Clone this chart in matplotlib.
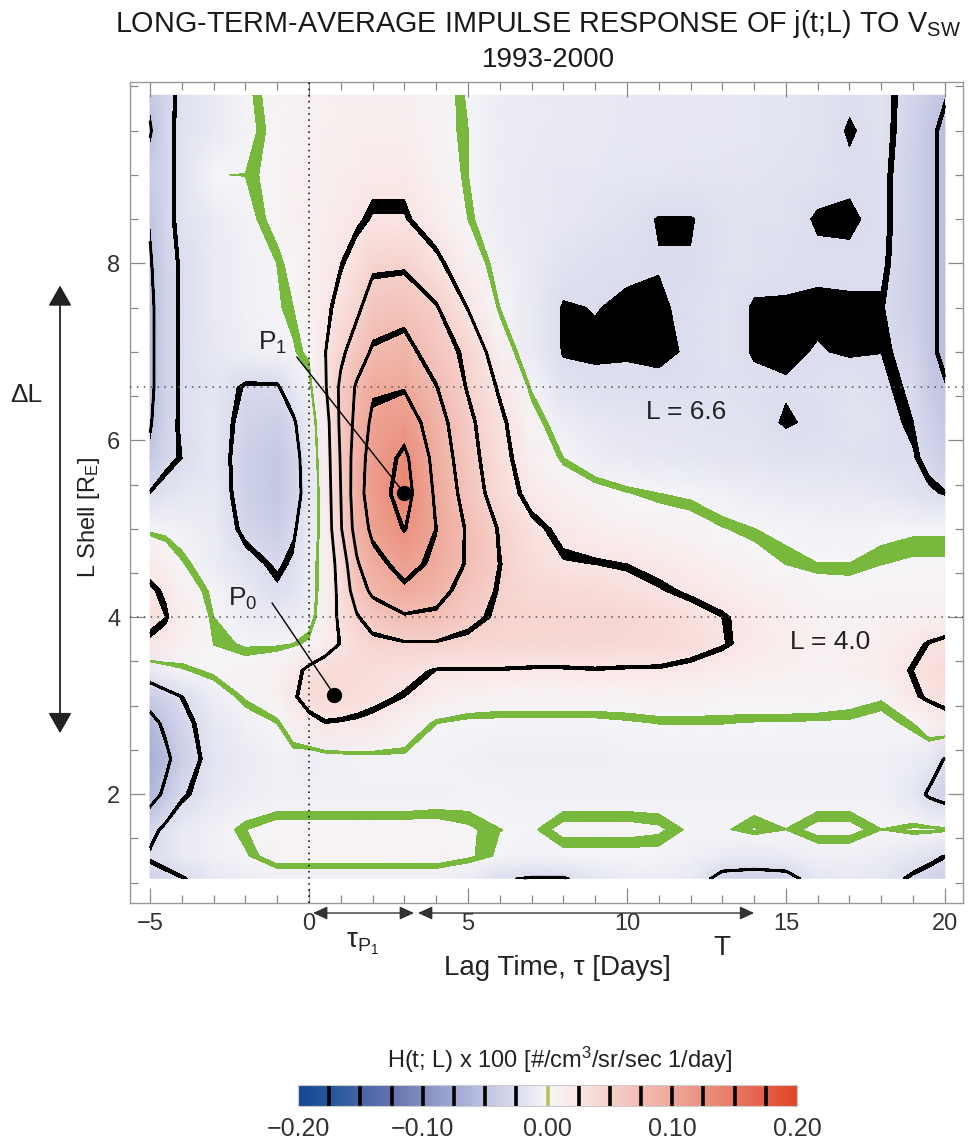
import numpy as np
import matplotlib
import matplotlib.pyplot as plt
from matplotlib.colors import LinearSegmentedColormap, Normalize
from matplotlib.cm import ScalarMappable
from matplotlib.ticker import MultipleLocator

plt.rcParams['font.family'] = ['Liberation Sans', 'DejaVu Sans']
plt.rcParams['mathtext.fontset'] = 'custom'
plt.rcParams['mathtext.rm'] = 'Liberation Sans'
plt.rcParams['mathtext.it'] = 'Liberation Sans:italic'
plt.rcParams['contour.negative_linestyle'] = 'solid'

# ================================
# DATA
# ================================
lag_days = [-5, -4.5, -4, -3, -2, -1, -0.5, 0, 0.5, 1, 1.5, 2, 3, 4, 5, 6, 7, 8, 9,
            10, 11, 12, 13, 14, 15, 16, 17, 18, 19, 19.5, 20]
l_shell = [1.05, 1.3, 1.6, 2.0, 2.4, 2.8, 3.1, 3.4, 3.7, 4.0, 4.3, 4.6, 5.0, 5.4,
           5.8, 6.2, 6.6, 7.0, 7.5, 8.0, 8.5, 9.0, 9.5, 9.9]

# H(t;L) x 100, in thousandths; one row per L shell (bottom to top)
response_milli = [
    [-35, -30, -26, -14, -8, -6, -6, -6, -6, -6, -6, -6, -6, -6, -8, -22, -26, -26, -15, -10, -8, -12, -32, -34, -32, -15, -12, -15, -28, -32, -35],  # 1.05
    [-22, -18, -12, -6, -2, 5, 5, 5, 5, 5, 5, 5, 5, 5, 2, -2, -4, -3, -3, -3, -3, -5, -10, -12, -10, -5, -5, -8, -15, -20, -25],  # 1.3
    [-32, -20, -12, -5, 1, 4, 4, 4, 4, 4, 4, 4, 4, 4, 2, -1, -2, 3, 3, 3, 2, -2, -2, 1.5, -1, 3, 3, -1, 2, 2, 1],  # 1.6
    [-60, -45, -28, -14, -8, -6, -6, -6, -6, -6, -6, -6, -6, -5, -4, -4, -5, -5, -5, -5, -5, -5, -5, -5, -5, -5, -5, -6, -15, -28, -34],  # 2.0
    [-70, -55, -38, -16, -10, -6, -5, -8, -6, -5, -4, -4, -3, -4, -6, -7, -7, -7, -7, -6, -6, -6, -6, -6, -6, -6, -6, -6, -8, -12, -26],  # 2.4
    [-58, -45, -32, -14, -6, -1, 8, 18, 24, 23, 22, 20, 10, -1, -3, -3, -3, -3, -3, -2, -1, -1, -1, -1.5, -1.5, -2, -2, -4, 1, 10, 16],  # 2.8
    [-40, -32, -25, -8, 2, 10, 22, 34, 38, 37, 33, 30, 24, 14, 8, 6, 6, 6, 6, 6, 7, 7, 6, 6, 6, 6, 4, 2, 22, 28, 32],  # 3.1
    [-12, -6, -2, 3, 5, 9, 18, 30, 37, 38, 36, 34, 32, 24, 24, 24, 23, 23, 24, 23, 23, 20, 15, 12, 10, 9, 10, 14, 26, 32, 36],  # 3.4
    [22, 18, 10, 1, -2, -2, -1, 3, 14, 26, 36, 44, 48, 48, 45, 42, 41, 41, 41, 40, 38, 33, 27, 18, 13, 10, 10, 11, 20, 26, 30],  # 3.7
    [30, 26, 14, -1, -8, -11, -10, -6, 10, 30, 48, 60, 72, 70, 56, 46, 44, 43, 43, 42, 38, 32, 26, 18, 12, 9, 8, 8, 10, 10, 10],  # 4.0
    [28, 22, 8, -3, -12, -22, -18, -8, 8, 32, 62, 80, 96, 85, 64, 48, 40, 38, 36, 32, 27, 22, 17, 12, 8, 5, 4, 5, 6, 6, 6],  # 4.3
    [18, 10, 2, -8, -18, -28, -22, -8, 8, 35, 72, 92, 108, 95, 72, 50, 35, 27, 26, 24, 20, 15, 10, 5, 1, -1, -1, 1, 2, 2, 2],  # 4.6
    [-3, -4, -6, -10, -30, -40, -28, -12, 8, 48, 85, 105, 126, 100, 72, 48, 30, 20, 14, 10, 7, 5, 1.5, -1, -3, -4, -4, -3, -2, -2, -2],  # 5.0
    [-24, -18, -15, -12, -35, -44, -35, -15, 10, 50, 90, 112, 135, 96, 65, 37, 18, 10, 5, 1.5, -1, -2.5, -6, -9, -10, -11, -12, -14, -18, -22, -25],  # 5.4
    [-45, -30, -24, -13, -36, -44, -34, -13, 12, 52, 88, 110, 130, 92, 60, 33, 12, -1, -8, -12, -14, -15, -16, -17, -18, -19, -20, -21, -23, -30, -38],  # 5.8
    [-52, -33, -22, -14, -32, -38, -28, -10, 14, 55, 82, 105, 115, 86, 56, 30, 6, -8, -14, -16, -17, -17, -18, -20, -25, -22, -18, -20, -26, -35, -45],  # 6.2
    [-55, -35, -22, -15, -27, -27, -14, -4, 22, 55, 78, 96, 98, 76, 48, 22, -2, -18, -21, -21, -22, -22, -20, -21, -23, -21, -18, -22, -28, -42, -48],  # 6.6
    [-55, -35, -22, -13, -7, -4, -2, 3, 24, 45, 62, 78, 84, 62, 45, 10, -10, -25, -25.5, -25, -25.5, -23, -18, -25, -25.5, -23.3, -25, -24, -30, -45, -55],  # 7.0
    [-55, -35, -22, -12, -6, -2, 1, 8, 20, 32, 45, 62, 66, 52, 24, -1, -12, -25, -23.5, -25.5, -25, -22, -18, -25, -25, -25.5, -25, -25, -36, -45, -55],  # 7.5
    [-52, -34, -22, -12, -6, -1, 4, 10, 16, 24, 32, 45, 46, 30, 10, -6, -12, -18, -21, -22, -23.5, -23.5, -20, -20, -21, -22, -22, -22, -36, -45, -55],  # 8.0
    [-48, -30, -20, -10, -4, 4, 8, 12, 14, 18, 22, 27, 27, 14, 1, -9, -12, -14, -16, -20, -24.5, -24.5, -20, -19, -20, -25, -25.5, -21, -35, -45, -55],  # 8.5
    [-40, -30, -20, -1.2, -1, 4, 8, 10, 12, 15, 17, 20, 20, 9, -1, -9, -11, -13, -14, -15, -15, -16, -16, -17, -18, -20, -22, -21, -35, -45, -55],  # 9.0
    [-52, -30, -20, -12, -4, 4, 7, 9, 10, 12, 13, 14, 14, 5, -1, -8, -10, -12, -12, -13, -13, -14, -14, -15, -16, -18, -25, -20, -33, -45, -55],  # 9.5
    [-45, -32, -20, -12, -3, 5, 7, 9, 10, 11, 12, 12, 12, 6, -2, -8, -10, -12, -12, -13, -13, -13, -14, -15, -16, -18, -22, -20, -32, -40, -48],  # 9.9
]

# marked response peaks P0 and P1
peak_names = ['P$_0$', 'P$_1$']
peak_lag = [0.8, 3.0]
peak_l = [3.12, 5.4]

# reference L shells (dotted lines)
ref_l_shells = [6.6, 4.0]
ref_labels = ['L = 6.6', 'L = 4.0']

# colour scale: H x 100 from -0.20 to 0.20 in steps of 0.025
cbar_bounds = np.linspace(-0.2, 0.2, 17)
cbar_ticks = [-0.2, -0.1, 0.0, 0.1, 0.2]
cmap_colors = ['#184896', '#23559b', '#4664a5', '#6473b0', '#828cbe', '#a0a8d2',
               '#bec3e1', '#dadcee', '#f6f6f8', '#fae6e4', '#f6d0cb', '#f2bcb2',
               '#eea898', '#eb9180', '#e87864', '#e45e46', '#de4626']

green = '#78b83c'

# ================================
# FIGURE
# ================================
W, H = 969, 1146
fig = plt.figure(figsize=(W / 100, H / 100), dpi=100)


def fig_box(x0, y0, x1, y1):
    # pixel box (top-left origin) -> figure fraction rect
    return [x0 / W, 1 - y1 / H, (x1 - x0) / W, (y1 - y0) / H]


ax = fig.add_axes(fig_box(130, 82, 963, 903))

h = np.array(response_milli) / 1000.0
lag = np.array(lag_days)
ls = np.array(l_shell)
X, Y = np.meshgrid(lag, ls)

cmap = LinearSegmentedColormap.from_list('hresp', cmap_colors)
norm = Normalize(vmin=-0.2, vmax=0.2)

ax.pcolormesh(X, Y, h, cmap=cmap, norm=norm, shading='gouraud', zorder=0)

# thick contour bands (the original lines fatten where the field is flat)
d = 0.0011
nonzero = [b for b in cbar_bounds[1:-1] if abs(b) > 1e-9]
for lev in nonzero:
    ax.contourf(X, Y, h, levels=[lev - d, lev + d], colors=['k'], zorder=1)
ax.contourf(X, Y, h, levels=[-d, d], colors=[green], zorder=1)
ax.contour(X, Y, h, levels=nonzero, colors='k', linewidths=2.0, zorder=2)
ax.contour(X, Y, h, levels=[0.0], colors=green, linewidths=1.3, zorder=2)

# dotted reference lines
for lv in ref_l_shells:
    ax.axhline(lv, color='#555555', ls=(0, (1, 3.5)), lw=1.1, zorder=3)
ax.axvline(0, color='k', ls=(0, (1, 3)), lw=1.1, zorder=3)

ax.text(11.86, 6.32, ref_labels[0], ha='center', va='center', fontsize=19, color='#222222')
ax.text(16.4, 3.72, ref_labels[1], ha='center', va='center', fontsize=19, color='#222222')

# peaks
ax.plot(peak_lag, peak_l, 'o', ms=10, color='k', zorder=5)
ax.plot([-0.38, peak_lag[1]], [6.94, peak_l[1]], color='k', lw=1.0, zorder=4)
ax.plot([-1.16, peak_lag[0]], [4.16, peak_l[0]], color='k', lw=1.0, zorder=4)
ax.text(-1.16, 7.1, peak_names[1], ha='center', va='center', fontsize=19, color='#222222')
ax.text(-2.1, 4.21, peak_names[0], ha='center', va='center', fontsize=19, color='#222222')

ax.set_xlim(-5.63, 20.57)
ax.set_ylim(0.77, 10.05)
ax.set_xticks([-5, 0, 5, 10, 15, 20])
ax.set_yticks([2, 4, 6, 8])
ax.xaxis.set_minor_locator(MultipleLocator(1))
ax.yaxis.set_minor_locator(MultipleLocator(0.5))
ax.tick_params(which='both', direction='in', top=True, right=True, color='#888888', width=0.9)
ax.tick_params(which='major', length=11, labelsize=17, pad=7, labelcolor='#333333')
ax.tick_params(which='minor', length=5.5)
for sp in ax.spines.values():
    sp.set_color('#999999')
    sp.set_linewidth(1.0)

# axis labels
ax.text(0.513, -0.079, 'Lag Time, τ [Days]', transform=ax.transAxes, ha='center', va='center',
        fontsize=20, color='#222222')
ax.text(-0.049, 0.47, 'L Shell [R$_\\mathrm{E}$]', transform=ax.transAxes, rotation=90,
        ha='center', va='center', fontsize=17, color='#222222')

# lag-time arrows under the axis
xt = ax.get_xaxis_transform()
head = dict(arrowstyle='<|-|>,head_length=0.86,head_width=0.4', mutation_scale=10,
            color='#333333', lw=1.0, shrinkA=0, shrinkB=0)
ax.annotate('', xy=(3.3, -0.0122), xytext=(0.13, -0.0122), xycoords=xt, textcoords=xt,
            arrowprops=head, annotation_clip=False)
ax.annotate('', xy=(14.0, -0.0122), xytext=(3.43, -0.0122), xycoords=xt, textcoords=xt,
            arrowprops=head, annotation_clip=False)
ax.text(1.7, -0.049, 'τ$_{\\mathrm{P}_1}$', transform=xt, ha='center', va='center', fontsize=20,
        color='#222222')
ax.text(13.0, -0.055, 'T', transform=xt, ha='center', va='center', fontsize=20, color='#222222')

# Delta L arrow left of the axis
yt = ax.get_yaxis_transform()
ax.annotate('', xy=(-0.084, 2.69), xytext=(-0.084, 7.75), xycoords=yt, textcoords=yt,
            arrowprops=dict(arrowstyle='<|-|>,head_length=1.05,head_width=0.6', mutation_scale=12,
                            color='#222222', lw=1.3, shrinkA=0, shrinkB=0),
            annotation_clip=False)
ax.text(-0.124, 6.51, 'ΔL', transform=yt, ha='center', va='center', fontsize=19, color='#222222')

# titles
fig.text(538 / W, 1 - 24 / H, 'LONG-TERM-AVERAGE IMPULSE RESPONSE OF j(t;L) TO V$_{\\mathrm{SW}}$',
         ha='center', va='center', fontsize=20.7, color='#1a1a1a')
fig.text(548 / W, 1 - 60 / H, '1993-2000', ha='center', va='center', fontsize=20, color='#1a1a1a')

# colour bar
cax = fig.add_axes(fig_box(298, 1085, 797, 1106))
cb = fig.colorbar(ScalarMappable(norm=norm, cmap=cmap), cax=cax, orientation='horizontal')
cb.set_ticks(cbar_ticks)
cb.set_ticklabels([f'{v:.2f}'.replace('-', '\u2212') for v in cbar_ticks])
cax.tick_params(length=0, labelsize=18, pad=8, labelcolor='#333333')
cb.outline.set_edgecolor('#cccccc')
cb.outline.set_linewidth(0.8)
for b in cbar_bounds[1:-1]:
    cax.axvline(b, color=('#b8c060' if abs(b) < 1e-9 else 'k'), lw=2.6)
fig.text(560 / W, 1 - 1060 / H, 'H(t; L) x 100 [#/cm$^3$/sr/sec 1/day]', ha='center', va='center',
         fontsize=17, color='#222222')

fig.savefig('out.png', dpi=100)
